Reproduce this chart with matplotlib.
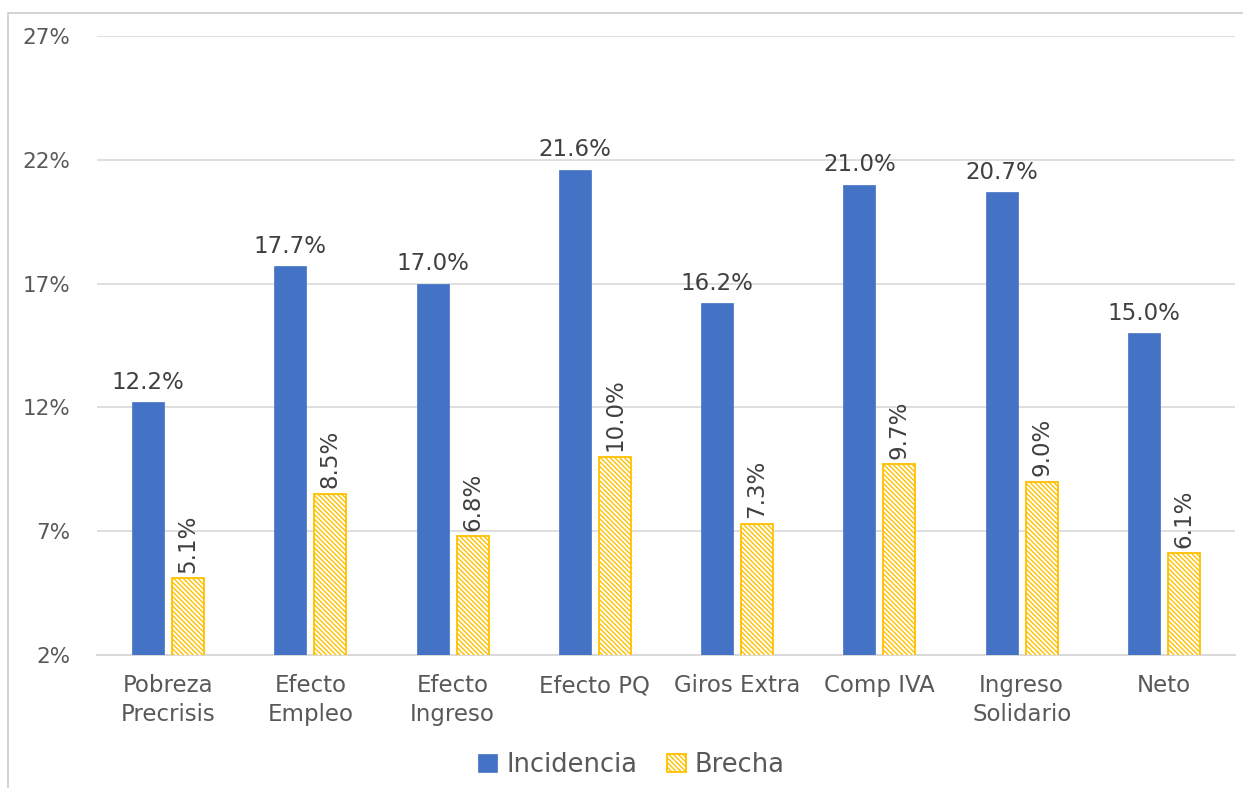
import matplotlib.pyplot as plt
import matplotlib.lines as mlines
import numpy as np

categorias = ["Pobreza\nPrecrisis", "Efecto\nEmpleo", "Efecto\nIngreso", "Efecto PQ",
              "Giros Extra", "Comp IVA", "Ingreso\nSolidario", "Neto"]
incidencia = [12.2, 17.7, 17.0, 21.6, 16.2, 21.0, 20.7, 15.0]
brecha = [5.1, 8.5, 6.8, 10.0, 7.3, 9.7, 9.0, 6.1]
ticks_y = [2, 7, 12, 17, 22, 27]

azul = "#4472C4"
amarillo = "#FFC000"
texto = "#595959"

plt.rcParams['font.family'] = ['DejaVu Sans']
plt.rcParams['hatch.linewidth'] = 1.0

fig = plt.figure(figsize=(12.43, 7.88), dpi=100)
ax = fig.add_axes([0.078, 0.1688, 0.9156, 0.7855])

# marco del grafico (borde izquierdo y superior)
x0, y0 = 8 / 1243, 1 - 13 / 788
fig.add_artist(mlines.Line2D([x0, x0, 1.0], [0, y0, y0], transform=fig.transFigure,
                             color="#d0d0d0", linewidth=1.3))

x = np.arange(len(categorias))
w = 0.225
b1 = ax.bar(x - 0.14, incidencia, w, color=azul, edgecolor=azul, linewidth=0.5,
            label="Incidencia", zorder=3)
b2 = ax.bar(x + 0.14, brecha, w, color="white", edgecolor=amarillo, hatch="\\" * 7,
            linewidth=1.3, label="Brecha", zorder=3)

for xi, v in zip(x, incidencia):
    ax.annotate(f"{v:.1f}%", (xi - 0.14, v), xytext=(0, 6), textcoords="offset points",
                ha="center", va="bottom", fontsize=16.5, color="#404040")
for xi, v in zip(x, brecha):
    ax.annotate(f"{v:.1f}%", (xi + 0.14, v), xytext=(0, 4), textcoords="offset points",
                ha="center", va="bottom", rotation=90, fontsize=16.5, color="#404040")

ax.set_ylim(2, 27)
ax.set_xlim(-0.5, 7.5)
ax.set_yticks(ticks_y)
ax.set_yticklabels([f"{t}%" for t in ticks_y])
ax.set_xticks(x)
ax.set_xticklabels(categorias, linespacing=1.3)
ax.tick_params(axis="y", length=0, pad=19, labelsize=15.5, labelcolor=texto)
ax.tick_params(axis="x", length=0, pad=14, labelsize=16.5, labelcolor=texto)
ax.grid(axis="y", color="#d9d9d9", linewidth=1.2, zorder=0)
for s in ["top", "right", "left"]:
    ax.spines[s].set_visible(False)
ax.spines["bottom"].set_color("#d9d9d9")
ax.spines["bottom"].set_linewidth(1.5)

fig.legend(handles=[b1, b2], loc="center", bbox_to_anchor=(0.508, 1 - 765 / 788), ncol=2,
           frameon=False, fontsize=18.5, handlelength=0.75, handleheight=0.75,
           handletextpad=0.35, columnspacing=1.15, labelcolor=texto)

fig.savefig("out.png", dpi=100)
